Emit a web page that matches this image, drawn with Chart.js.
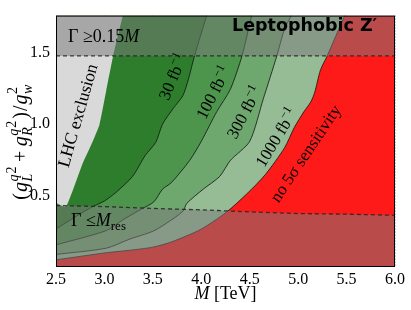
<!DOCTYPE html>
<html><head><meta charset="utf-8">
<script src="https://cdn.jsdelivr.net/npm/chart.js@4.4.1/dist/chart.umd.min.js"></script>
<style>html,body{margin:0;padding:0;background:#fff;}#wrap{width:411px;height:310px;position:relative;}</style>
</head><body><div id="wrap"><canvas id="c"></canvas></div>
<script>
// ---- data (M in TeV, coupling ratio) ----
const xTicks = [2.5, 3.0, 3.5, 4.0, 4.5, 5.0, 5.5, 6.0];
const yTicks = [0.5, 1.0, 1.5];
const xRange = [2.5, 6.0];
const yRange = [0.0, 1.76];

const lhcM = [2.5, 2.6, 2.69, 2.775, 2.88, 2.95, 3.02, 3.09, 3.19];
const lhcG = [0.45, 0.42, 0.567, 0.724, 0.88, 1.0, 1.24, 1.478, 1.76];

const c30M = [2.5, 2.71, 2.88, 3.0, 3.12, 3.29, 3.42, 3.53, 3.60, 3.71, 3.81, 3.865, 3.93, 4.055];
const c30G = [0.266, 0.356, 0.423, 0.462, 0.523, 0.634, 0.78, 0.873, 1.0, 1.11, 1.2, 1.31, 1.478, 1.76];

const c100M = [2.5, 3.02, 3.19, 3.38, 3.51, 3.60, 3.69, 3.88, 4.0, 4.16, 4.30, 4.42, 4.52];
const c100G = [0.155, 0.255, 0.33, 0.405, 0.456, 0.545, 0.59, 0.746, 0.88, 1.088, 1.244, 1.478, 1.76];

const c300M = [2.5, 3.02, 3.26, 3.50, 3.64, 3.81, 3.85, 4.02, 4.19, 4.30, 4.50, 4.64, 4.78, 4.86, 4.93];
const c300G = [0.088, 0.132, 0.195, 0.25, 0.306, 0.39, 0.445, 0.545, 0.634, 0.746, 0.88, 1.177, 1.478, 1.668, 1.76];

const c1000M = [2.5, 3.02, 3.26, 3.50, 3.69, 3.99, 4.26, 4.47, 4.66, 4.86, 4.96, 5.06, 5.13, 5.17, 5.23, 5.30, 5.48];
const c1000G = [0.05, 0.1, 0.117, 0.139, 0.175, 0.262, 0.384, 0.512, 0.646, 0.835, 0.976, 1.088, 1.155, 1.22, 1.378, 1.478, 1.76];

const resM = [2.5, 3.0, 3.5, 4.0, 4.5, 5.0, 5.5, 6.0];
const resG = [0.43, 0.423, 0.41, 0.40, 0.386, 0.374, 0.37, 0.362];

const widthM = [2.5, 6.0];
const widthG = [1.478, 1.478];

const noSensM = [2.5, 6.0];
const noSensG = [1.76, 1.76];

// ---- helpers ----
const pts = (M, G) => M.map((m, i) => ({x: m, y: G[i]}));
const SERIF = "'Liberation Serif', 'DejaVu Serif', serif";
const LINE = 'rgba(20,20,20,0.9)';
const OVER = 'rgba(121,121,121,0.52)';

function fontOf(s) {
  return (s.i ? 'italic ' : '') + (s.b ? 'bold ' : '') + s.size + 'px ' + (s.fam || SERIF);
}
function drawRich(ctx, segs, x, y, align, rot, dyAll) {
  ctx.save();
  ctx.translate(x, y);
  ctx.rotate((rot || 0) * Math.PI / 180);
  ctx.textBaseline = 'alphabetic';
  ctx.textAlign = 'left';
  let total = 0;
  for (const s of segs) {
    ctx.font = fontOf(s);
    s._w = ctx.measureText(s.t).width;
    if (s.adv !== false) total += s._w + (s.sp || 0);
  }
  let cx = align === 'center' ? -total / 2 : (align === 'right' ? -total : 0);
  const cy = dyAll || 0;
  for (const s of segs) {
    ctx.font = fontOf(s);
    ctx.fillStyle = '#000';
    ctx.fillText(s.t, cx, cy + (s.dy || 0));
    if (s.adv !== false) cx += s._w + (s.sp || 0);
  }
  ctx.restore();
}

const labelsPlugin = {
  id: 'labels',
  afterDraw(chart) {
    const {ctx, chartArea: a, scales: {x, y}} = chart;
    ctx.save();
    ctx.strokeStyle = '#000';
    ctx.lineWidth = 1;
    ctx.strokeRect(a.left + 0.5, a.top + 0.5, a.width - 1, a.height - 1);
    ctx.restore();
    const P = (m, g) => [x.getPixelForValue(m), y.getPixelForValue(g)];
    const fb = (n) => [{t: n + ' fb', size: 17}, {t: '\u22121', size: 12, dy: -7}];
    let p;
    p = P(2.73, 1.06); drawRich(ctx, [{t: 'LHC exclusion', size: 17.5}], p[0], p[1], 'center', -74, 5);
    p = P(3.71, 1.33); drawRich(ctx, fb('30'), p[0], p[1], 'center', -67, 5);
    p = P(4.13, 1.22); drawRich(ctx, fb('100'), p[0], p[1], 'center', -63, 5);
    p = P(4.45, 1.08); drawRich(ctx, fb('300'), p[0], p[1], 'center', -62, 5);
    p = P(4.78, 0.905); drawRich(ctx, fb('1000'), p[0], p[1], 'center', -59, 5);
    p = P(5.08, 0.793); drawRich(ctx, [{t: 'no 5\u03c3 sensitivity', size: 17}], p[0], p[1], 'center', -56, 5);
    drawRich(ctx, [{t: 'Leptophobic Z\u2032', size: 17.5, b: 1, fam: "'DejaVu Sans', sans-serif"}], 232, 30.7, 'left', 0);
    drawRich(ctx, [{t: '\u0393 \u22650.15', size: 18}, {t: 'M', size: 18, i: 1}], 68, 41.5, 'left', 0);
    drawRich(ctx, [{t: '\u0393 \u2264', size: 18}, {t: 'M', size: 18, i: 1}, {t: 'res', size: 13, dy: 4}], 71, 226, 'left', 0);
    // axis titles
    drawRich(ctx, [{t: 'M', size: 18, i: 1}, {t: ' [TeV]', size: 18}], (a.left + a.right) / 2, 299, 'center', 0);
    const yl = [
      {t: '(', size: 20, sp: 1},
      {t: 'g', size: 20, i: 1, sp: 0.5},
      {t: 'L', size: 14, i: 1, dy: 5, adv: false},
      {t: 'q', size: 14, i: 1, dy: -9, sp: 1},
      {t: '2', size: 14, dy: -11, sp: 4.5},
      {t: '+', size: 20, sp: 4.5},
      {t: 'g', size: 20, i: 1, sp: 0.5},
      {t: 'R', size: 14, i: 1, dy: 5, adv: false},
      {t: 'q', size: 14, i: 1, dy: -9, sp: 1},
      {t: '2', size: 14, dy: -11, sp: 2},
      {t: ')', size: 20, sp: 1},
      {t: '/', size: 20, sp: 1},
      {t: 'g', size: 20, i: 1, sp: 0.5},
      {t: 'w', size: 14, i: 1, dy: 5, adv: false},
      {t: '2', size: 14, dy: -10}
    ];
    drawRich(ctx, yl, 27, (a.top + a.bottom) / 2 + 2, 'center', -90);
  }
};

const base = {pointRadius: 0, pointHoverRadius: 0, tension: 0.25};
const datasets = [
  Object.assign({}, base, {label: 'no 5σ sensitivity', data: pts(noSensM, noSensG), fill: 'start', backgroundColor: 'rgb(255,26,26)', borderWidth: 0, borderColor: 'transparent', order: 10}),
  Object.assign({}, base, {label: '1000 fb-1', data: pts(c1000M, c1000G), fill: 'end', backgroundColor: 'rgb(150,188,150)', borderColor: LINE, borderWidth: 0.9, order: 9}),
  Object.assign({}, base, {label: '300 fb-1', data: pts(c300M, c300G), fill: 'end', backgroundColor: 'rgb(111,168,111)', borderColor: LINE, borderWidth: 0.9, order: 8}),
  Object.assign({}, base, {label: '100 fb-1', data: pts(c100M, c100G), fill: 'end', backgroundColor: 'rgb(77,148,77)', borderColor: LINE, borderWidth: 0.9, order: 7}),
  Object.assign({}, base, {label: '30 fb-1', data: pts(c30M, c30G), fill: 'end', backgroundColor: 'rgb(45,125,45)', borderColor: LINE, borderWidth: 0.9, order: 6}),
  Object.assign({}, base, {label: 'LHC exclusion', data: pts(lhcM, lhcG), fill: 'end', backgroundColor: 'rgb(217,217,217)', borderWidth: 0, borderColor: 'transparent', tension: 0.15, order: 5}),
  Object.assign({}, base, {label: 'Γ ≤ M_res', data: pts(resM, resG), fill: 'start', backgroundColor: OVER, borderColor: 'rgba(40,40,40,0.9)', borderWidth: 1.3, borderDash: [4, 3], tension: 0, order: 4}),
  Object.assign({}, base, {label: 'Γ ≥ 0.15M', data: pts(widthM, widthG), fill: 'end', backgroundColor: OVER, borderColor: 'rgba(40,40,40,0.9)', borderWidth: 1.3, borderDash: [4, 3], tension: 0, order: 3})
];

const gridOpts = {color: 'rgba(60,60,60,0.45)', lineWidth: 1, drawTicks: false};
new Chart(document.getElementById('c'), {
  type: 'line',
  data: {datasets},
  plugins: [labelsPlugin],
  options: {
    responsive: true, maintainAspectRatio: false, animation: false, devicePixelRatio: 1,
    layout: {padding: {left: 0, right: 16, top: 5, bottom: 0}},
    plugins: {legend: {display: false}, tooltip: {enabled: false}},
    scales: {
      x: {
        type: 'linear', min: xRange[0], max: xRange[1], z: 1,
        afterBuildTicks: s => { s.ticks = xTicks.map(v => ({value: v})); },
        afterFit: s => { s.height = 43; },
        grid: Object.assign({}, gridOpts),
        border: {display: false, dash: [1, 2]},
        ticks: {font: {family: SERIF, size: 16}, color: '#000', padding: 3, maxRotation: 0, autoSkip: false,
          callback: v => Number(v).toFixed(1)}
      },
      y: {
        type: 'linear', min: yRange[0], max: yRange[1], z: 1,
        afterBuildTicks: s => { s.ticks = yTicks.map(v => ({value: v})); },
        afterFit: s => { s.width = 56; },
        grid: Object.assign({}, gridOpts),
        border: {display: false, dash: [1, 2]},
        ticks: {font: {family: SERIF, size: 16}, color: '#000', padding: 6, autoSkip: false,
          callback: v => Number(v).toFixed(1)}
      }
    }
  }
});
</script></body></html>
